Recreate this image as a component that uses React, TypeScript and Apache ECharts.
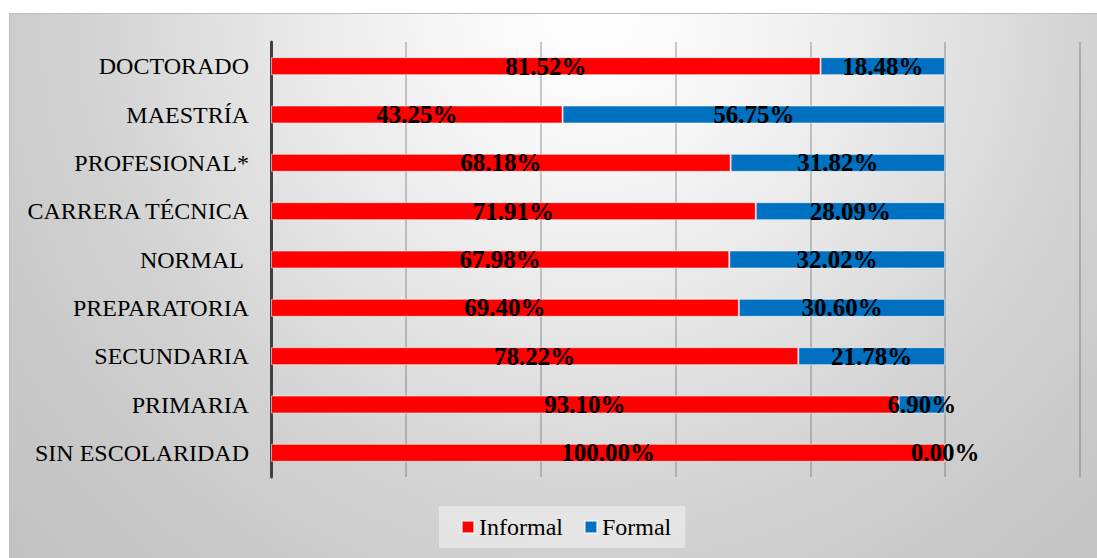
import React, { useEffect, useRef } from "react";
import * as echarts from "echarts";

// Education levels, top to bottom
const categories = [
  "DOCTORADO",
  "MAESTRÍA",
  "PROFESIONAL*",
  "CARRERA TÉCNICA",
  "NORMAL ",
  "PREPARATORIA",
  "SECUNDARIA",
  "PRIMARIA",
  "SIN ESCOLARIDAD",
];

// Share of each level (percent)
const informal = [81.52, 43.25, 68.18, 71.91, 67.98, 69.4, 78.22, 93.1, 100.0];
const formal = [18.48, 56.75, 31.82, 28.09, 32.02, 30.6, 21.78, 6.9, 0.0];

const FONT = "'Liberation Serif', 'Times New Roman', serif";

export default function App() {
  const ref = useRef<HTMLDivElement>(null);

  useEffect(() => {
    if (!ref.current) return;
    const chart = echarts.init(ref.current, null, { renderer: "svg" });

    const label = {
      show: true,
      position: "inside" as const,
      color: "#000",
      fontFamily: FONT,
      fontWeight: "bold" as const,
      fontSize: 25,
      formatter: (p: any) => Number(p.value).toFixed(2) + "%",
    };

    chart.setOption({
      animation: false,
      graphic: [
        {
          type: "rect",
          z: -10,
          silent: true,
          shape: { x: 9.5, y: 13.5, width: 1100, height: 560 },
          style: {
            // light spot near the top centre fading to grey at the corners
            fill: new echarts.graphic.RadialGradient(
              590,
              13,
              800,
              [
                { offset: 0, color: "#ffffff" },
                { offset: 0.19, color: "#f6f6f6" },
                { offset: 0.38, color: "#e8e8e8" },
                { offset: 0.62, color: "#d3d3d3" },
                { offset: 0.8, color: "#c9c9c9" },
                { offset: 1, color: "#c2c2c2" },
              ],
              true
            ),
            stroke: "#bdbdbd",
            lineWidth: 1,
          },
        },
      ],
      legend: {
        data: ["Informal", "Formal"],
        left: 439,
        top: 506,
        itemWidth: 12,
        itemHeight: 12,
        itemGap: 21,
        icon: "rect",
        padding: [9, 14, 9, 22],
        backgroundColor: "rgba(235,235,235,0.75)",
        textStyle: { fontFamily: FONT, fontSize: 24, color: "#000" },
      },
      grid: { left: 271, right: 17, top: 42, bottom: 81 },
      xAxis: {
        type: "value",
        min: 0,
        max: 120,
        interval: 20,
        axisLabel: { show: false },
        axisLine: { show: false },
        axisTick: { show: false },
        splitLine: {
          show: true,
          lineStyle: { color: "rgba(90,90,90,0.32)", width: 2 },
        },
      },
      yAxis: {
        type: "category",
        data: categories,
        inverse: true,
        axisTick: { show: false },
        axisLine: { show: true, lineStyle: { color: "#404040", width: 3 } },
        axisLabel: {
          margin: 22,
          fontFamily: FONT,
          fontSize: 24,
          color: "#000",
        },
      },
      series: [
        {
          name: "Informal",
          type: "bar",
          stack: "total",
          data: informal,
          barWidth: 18,
          itemStyle: {
            color: "#ff0000",
            borderColor: "rgba(255,255,255,0.55)",
            borderWidth: 1,
          },
          label,
        },
        {
          name: "Formal",
          type: "bar",
          stack: "total",
          data: formal,
          barWidth: 18,
          itemStyle: {
            color: "#0070c0",
            borderColor: "rgba(255,255,255,0.55)",
            borderWidth: 1,
          },
          label,
        },
      ],
    });

    return () => chart.dispose();
  }, []);

  return (
    <div
      ref={ref}
      style={{ position: "fixed", left: 0, top: 0, width: 1097, height: 558, background: "#fff" }}
    />
  );
}
